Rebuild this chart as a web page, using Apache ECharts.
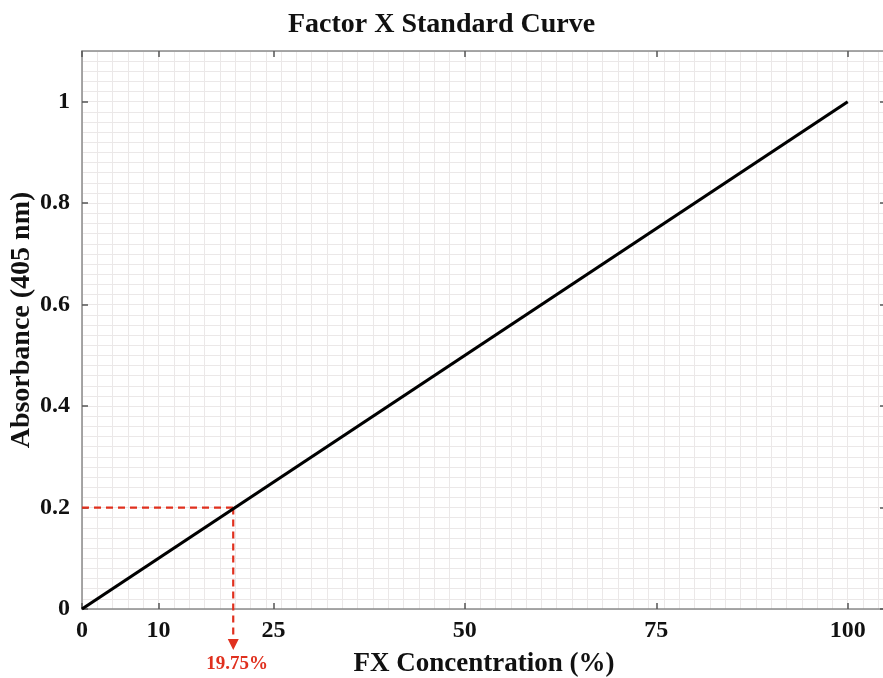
<!DOCTYPE html>
<html>
<head>
<meta charset="utf-8">
<script src="https://cdn.jsdelivr.net/npm/echarts@6/dist/echarts.min.js"></script>
<style>
  html, body { margin: 0; padding: 0; background: #fff; }
  #chart { width: 883px; height: 678px; }
</style>
</head>
<body>
<div id="chart"></div>
<script>
// standard curve
const concentration = [0, 100]
const absorbance = [0, 1]
// tick labels
const xTicks = [0, 10, 25, 50, 75, 100]
const yTicks = [0, 0.2, 0.4, 0.6, 0.8, 1]
// sample
const sampleAbs = 0.2
const sampleConc = 19.75
const arrowEnd = -0.07

const font = 'Liberation Serif, Times New Roman, serif'
const frame = '#8a8a8a'
const red = '#e0301e'

const chart = echarts.init(document.getElementById('chart'))

const ticks = (vals) => ({
  show: true,
  inside: true,
  length: 6,
  lineStyle: { color: '#555', width: 1.5 },
  customValues: vals
})
const frameLine = { show: true, onZero: false, lineStyle: { color: frame, width: 1.5 } }
const gridLine = { show: true, lineStyle: { color: '#ebe8e8', width: 1 } }

chart.setOption({
  animation: false,
  title: {
    text: 'Factor X Standard Curve',
    left: 'center',
    top: 6,
    textStyle: { fontFamily: font, fontWeight: 'bold', fontSize: 28, color: '#111' }
  },
  grid: { left: 82, right: -3, top: 51, bottom: 69, outerBoundsMode: 'none', containLabel: false },
  xAxis: [
    {
      type: 'value', min: 0, max: 105, position: 'bottom',
      name: 'FX Concentration (%)', nameLocation: 'middle', nameGap: 42,
      nameTextStyle: { fontFamily: font, fontWeight: 'bold', fontSize: 27, color: '#111' },
      axisLine: frameLine,
      axisTick: ticks(xTicks),
      axisLabel: { customValues: xTicks, fontFamily: font, fontWeight: 'bold', fontSize: 24, color: '#111', margin: 10 },
      splitLine: { show: false }
    },
    {
      type: 'value', min: 0, max: 105, position: 'top',
      axisLine: frameLine,
      axisTick: ticks(xTicks),
      axisLabel: { show: false, customValues: xTicks },
      splitLine: { show: false }
    },
    {
      // grid lines only
      type: 'value', min: 0, max: 105, interval: 2, position: 'bottom',
      axisLine: { show: false }, axisTick: { show: false }, axisLabel: { show: false },
      splitLine: gridLine
    }
  ],
  yAxis: [
    {
      type: 'value', min: 0, max: 1.1, position: 'left',
      name: 'Absorbance (405 nm)', nameLocation: 'middle', nameGap: 46, nameMoveOverlap: false,
      nameTextStyle: { fontFamily: font, fontWeight: 'bold', fontSize: 28, color: '#111', padding: [0, 0, 0, 20] },
      axisLine: frameLine,
      axisTick: ticks(yTicks),
      axisLabel: { customValues: yTicks, fontFamily: font, fontWeight: 'bold', fontSize: 24, color: '#111', margin: 12 },
      splitLine: { show: false }
    },
    {
      type: 'value', min: 0, max: 1.1, position: 'right',
      axisLine: frameLine,
      axisTick: ticks(yTicks),
      axisLabel: { show: false, customValues: yTicks },
      splitLine: { show: false }
    },
    {
      type: 'value', min: 0, max: 1.1, interval: 0.02, position: 'left',
      axisLine: { show: false }, axisTick: { show: false }, axisLabel: { show: false },
      splitLine: gridLine
    }
  ],
  series: [
    {
      // horizontal read-off
      type: 'line',
      data: [[0, sampleAbs], [sampleConc, sampleAbs]],
      symbol: 'none',
      clip: false,
      lineStyle: { color: red, type: [7, 5], width: 2.2 },
      z: 4
    },
    {
      // vertical read-off with arrow
      type: 'line',
      data: [
        { value: [sampleConc, sampleAbs], symbol: 'none' },
        {
          value: [sampleConc, arrowEnd],
          symbol: 'triangle', symbolRotate: 180, symbolSize: [11, 11],
          label: {
            show: true, position: 'bottom', distance: 5, offset: [4, 0], formatter: sampleConc + '%',
            fontFamily: font, fontWeight: 'bold', fontSize: 19, color: red
          }
        }
      ],
      showSymbol: true,
      clip: false,
      itemStyle: { color: red },
      lineStyle: { color: red, type: [7, 5], width: 2.2 },
      z: 4
    },
    {
      type: 'line',
      data: concentration.map((c, i) => [c, absorbance[i]]),
      symbol: 'none',
      clip: false,
      lineStyle: { color: '#000', width: 3.2 },
      z: 5
    }
  ]
})
</script>
</body>
</html>
